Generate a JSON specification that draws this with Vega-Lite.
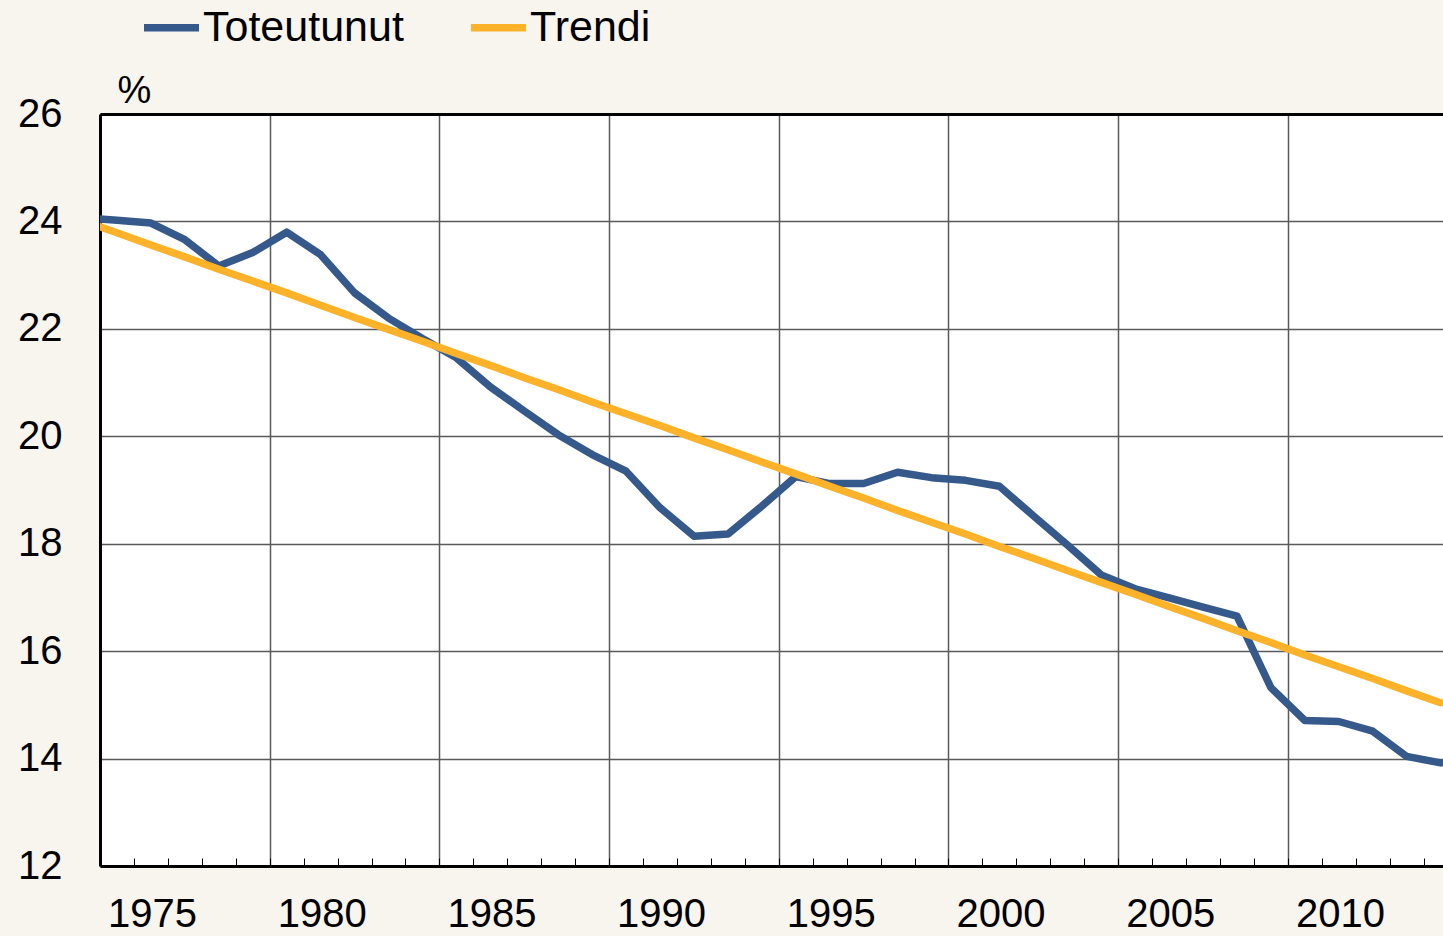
{
  "$schema": "https://vega.github.io/schema/vega-lite/v6.json",
  "width": 1343,
  "height": 752,
  "autosize": "none",
  "padding": {"left": 100, "top": 114, "right": 0, "bottom": 70},
  "background": "#F8F4EE",
  "config": {
    "view": {"stroke": null, "fill": "#FFFFFF"},
    "font": "Liberation Sans",
    "axis": {"labelFont": "Liberation Sans", "titleFont": "Liberation Sans", "labelColor": "#000000", "titleColor": "#000000"}
  },
  "data": {
    "values": [
      {"vuosi": 1973, "sarja": "Toteutunut", "arvo": 24.07},
      {"vuosi": 1974, "sarja": "Toteutunut", "arvo": 24.02},
      {"vuosi": 1975, "sarja": "Toteutunut", "arvo": 23.97},
      {"vuosi": 1976, "sarja": "Toteutunut", "arvo": 23.66},
      {"vuosi": 1977, "sarja": "Toteutunut", "arvo": 23.17},
      {"vuosi": 1978, "sarja": "Toteutunut", "arvo": 23.42},
      {"vuosi": 1979, "sarja": "Toteutunut", "arvo": 23.80},
      {"vuosi": 1980, "sarja": "Toteutunut", "arvo": 23.38},
      {"vuosi": 1981, "sarja": "Toteutunut", "arvo": 22.67},
      {"vuosi": 1982, "sarja": "Toteutunut", "arvo": 22.20},
      {"vuosi": 1983, "sarja": "Toteutunut", "arvo": 21.82},
      {"vuosi": 1984, "sarja": "Toteutunut", "arvo": 21.46},
      {"vuosi": 1985, "sarja": "Toteutunut", "arvo": 20.92},
      {"vuosi": 1986, "sarja": "Toteutunut", "arvo": 20.47},
      {"vuosi": 1987, "sarja": "Toteutunut", "arvo": 20.03},
      {"vuosi": 1988, "sarja": "Toteutunut", "arvo": 19.66},
      {"vuosi": 1989, "sarja": "Toteutunut", "arvo": 19.35},
      {"vuosi": 1990, "sarja": "Toteutunut", "arvo": 18.67},
      {"vuosi": 1991, "sarja": "Toteutunut", "arvo": 18.14},
      {"vuosi": 1992, "sarja": "Toteutunut", "arvo": 18.18},
      {"vuosi": 1993, "sarja": "Toteutunut", "arvo": 18.70},
      {"vuosi": 1994, "sarja": "Toteutunut", "arvo": 19.25},
      {"vuosi": 1995, "sarja": "Toteutunut", "arvo": 19.12},
      {"vuosi": 1996, "sarja": "Toteutunut", "arvo": 19.12},
      {"vuosi": 1997, "sarja": "Toteutunut", "arvo": 19.33},
      {"vuosi": 1998, "sarja": "Toteutunut", "arvo": 19.23},
      {"vuosi": 1999, "sarja": "Toteutunut", "arvo": 19.18},
      {"vuosi": 2000, "sarja": "Toteutunut", "arvo": 19.07},
      {"vuosi": 2001, "sarja": "Toteutunut", "arvo": 18.52},
      {"vuosi": 2002, "sarja": "Toteutunut", "arvo": 17.98},
      {"vuosi": 2003, "sarja": "Toteutunut", "arvo": 17.42},
      {"vuosi": 2004, "sarja": "Toteutunut", "arvo": 17.16},
      {"vuosi": 2005, "sarja": "Toteutunut", "arvo": 16.99},
      {"vuosi": 2006, "sarja": "Toteutunut", "arvo": 16.82},
      {"vuosi": 2007, "sarja": "Toteutunut", "arvo": 16.65},
      {"vuosi": 2008, "sarja": "Toteutunut", "arvo": 15.32},
      {"vuosi": 2009, "sarja": "Toteutunut", "arvo": 14.71},
      {"vuosi": 2010, "sarja": "Toteutunut", "arvo": 14.69},
      {"vuosi": 2011, "sarja": "Toteutunut", "arvo": 14.51},
      {"vuosi": 2012, "sarja": "Toteutunut", "arvo": 14.04},
      {"vuosi": 2013, "sarja": "Toteutunut", "arvo": 13.92},
      {"vuosi": 1973, "sarja": "Trendi", "arvo": 24.01},
      {"vuosi": 1974, "sarja": "Trendi", "arvo": 23.79},
      {"vuosi": 1975, "sarja": "Trendi", "arvo": 23.56},
      {"vuosi": 1976, "sarja": "Trendi", "arvo": 23.34},
      {"vuosi": 1977, "sarja": "Trendi", "arvo": 23.11},
      {"vuosi": 1978, "sarja": "Trendi", "arvo": 22.89},
      {"vuosi": 1979, "sarja": "Trendi", "arvo": 22.67},
      {"vuosi": 1980, "sarja": "Trendi", "arvo": 22.44},
      {"vuosi": 1981, "sarja": "Trendi", "arvo": 22.21},
      {"vuosi": 1982, "sarja": "Trendi", "arvo": 21.99},
      {"vuosi": 1983, "sarja": "Trendi", "arvo": 21.77},
      {"vuosi": 1984, "sarja": "Trendi", "arvo": 21.54},
      {"vuosi": 1985, "sarja": "Trendi", "arvo": 21.32},
      {"vuosi": 1986, "sarja": "Trendi", "arvo": 21.09},
      {"vuosi": 1987, "sarja": "Trendi", "arvo": 20.87},
      {"vuosi": 1988, "sarja": "Trendi", "arvo": 20.64},
      {"vuosi": 1989, "sarja": "Trendi", "arvo": 20.42},
      {"vuosi": 1990, "sarja": "Trendi", "arvo": 20.20},
      {"vuosi": 1991, "sarja": "Trendi", "arvo": 19.97},
      {"vuosi": 1992, "sarja": "Trendi", "arvo": 19.75},
      {"vuosi": 1993, "sarja": "Trendi", "arvo": 19.52},
      {"vuosi": 1994, "sarja": "Trendi", "arvo": 19.30},
      {"vuosi": 1995, "sarja": "Trendi", "arvo": 19.07},
      {"vuosi": 1996, "sarja": "Trendi", "arvo": 18.85},
      {"vuosi": 1997, "sarja": "Trendi", "arvo": 18.62},
      {"vuosi": 1998, "sarja": "Trendi", "arvo": 18.40},
      {"vuosi": 1999, "sarja": "Trendi", "arvo": 18.18},
      {"vuosi": 2000, "sarja": "Trendi", "arvo": 17.95},
      {"vuosi": 2001, "sarja": "Trendi", "arvo": 17.73},
      {"vuosi": 2002, "sarja": "Trendi", "arvo": 17.50},
      {"vuosi": 2003, "sarja": "Trendi", "arvo": 17.28},
      {"vuosi": 2004, "sarja": "Trendi", "arvo": 17.06},
      {"vuosi": 2005, "sarja": "Trendi", "arvo": 16.83},
      {"vuosi": 2006, "sarja": "Trendi", "arvo": 16.61},
      {"vuosi": 2007, "sarja": "Trendi", "arvo": 16.38},
      {"vuosi": 2008, "sarja": "Trendi", "arvo": 16.16},
      {"vuosi": 2009, "sarja": "Trendi", "arvo": 15.93},
      {"vuosi": 2010, "sarja": "Trendi", "arvo": 15.71},
      {"vuosi": 2011, "sarja": "Trendi", "arvo": 15.49},
      {"vuosi": 2012, "sarja": "Trendi", "arvo": 15.26},
      {"vuosi": 2013, "sarja": "Trendi", "arvo": 15.04}
    ]
  },
  "layer": [
    {
      "transform": [{"filter": "datum.sarja == 'Toteutunut'"}],
      "mark": {"type": "line", "strokeWidth": 7.5, "clip": true, "strokeJoin": "round", "strokeCap": "round"},
      "encoding": {
        "x": {
          "field": "vuosi", "type": "quantitative",
          "scale": {"domain": [1973.5, 2013.07], "nice": false, "zero": false},
          "axis": {
            "orient": "bottom", "title": null,
            "values": [1973.5, 1974.5, 1975.5, 1976.5, 1977.5, 1978.5, 1979.5, 1980.5, 1981.5, 1982.5, 1983.5, 1984.5, 1985.5, 1986.5, 1987.5, 1988.5, 1989.5, 1990.5, 1991.5, 1992.5, 1993.5, 1994.5, 1995.5, 1996.5, 1997.5, 1998.5, 1999.5, 2000.5, 2001.5, 2002.5, 2003.5, 2004.5, 2005.5, 2006.5, 2007.5, 2008.5, 2009.5, 2010.5, 2011.5, 2012.5],
            "grid": false,
            "domain": true, "domainColor": "#000000", "domainWidth": 3,
            "ticks": true, "tickSize": -8, "tickColor": "#000000", "tickWidth": 1,
            "labelExpr": "(datum.value - 1973.5) % 5 == 0 ? format(datum.value + 1.5, 'd') : ''",
            "labelOffset": 52, "labelFontSize": 40, "labelPadding": 36,
            "labelFlush": false, "labelOverlap": false, "labelBound": false
          }
        },
        "y": {
          "field": "arvo", "type": "quantitative",
          "scale": {"domain": [12, 26], "nice": false, "zero": false},
          "axis": {
            "values": [12, 14, 16, 18, 20, 22, 24, 26],
            "grid": true, "gridColor": "#5A5A5A", "gridWidth": 1.5,
            "domain": true, "domainColor": "#000000", "domainWidth": 3,
            "ticks": false, "labelFontSize": 40, "labelPadding": 38,
            "title": "%", "titleAngle": 0, "titleFontSize": 38, "titleFontWeight": "normal",
            "titleX": 34, "titleY": -12, "titleAlign": "center", "titleBaseline": "alphabetic"
          }
        },
        "color": {
          "field": "sarja", "type": "nominal",
          "scale": {"domain": ["Toteutunut", "Trendi"], "range": ["#36598B", "#FDB22A"]},
          "legend": {
            "orient": "none", "legendX": 40, "legendY": -118, "direction": "horizontal",
            "title": null, "symbolType": "stroke", "symbolSize": 3025, "symbolStrokeWidth": 7.5,
            "labelFontSize": 43, "labelOffset": 0, "labelLimit": 0, "columnPadding": 52, "padding": 0,
            "labelColor": "#000000", "labelFont": "Liberation Sans"
          }
        }
      }
    },
    {
      "transform": [{"filter": "datum.sarja == 'Trendi'"}],
      "mark": {"type": "line", "strokeWidth": 7.5, "clip": true, "strokeCap": "round"},
      "encoding": {
        "x": {
          "field": "vuosi", "type": "quantitative",
          "axis": {
            "orient": "top", "title": null,
            "values": [1978.5, 1983.5, 1988.5, 1993.5, 1998.5, 2003.5, 2008.5],
            "grid": true, "gridColor": "#5A5A5A", "gridWidth": 1.5,
            "domain": true, "domainColor": "#000000", "domainWidth": 3,
            "ticks": false, "labels": false
          }
        },
        "y": {"field": "arvo", "type": "quantitative"},
        "color": {"field": "sarja", "type": "nominal"}
      }
    }
  ],
  "resolve": {"axis": {"x": "independent"}}
}
